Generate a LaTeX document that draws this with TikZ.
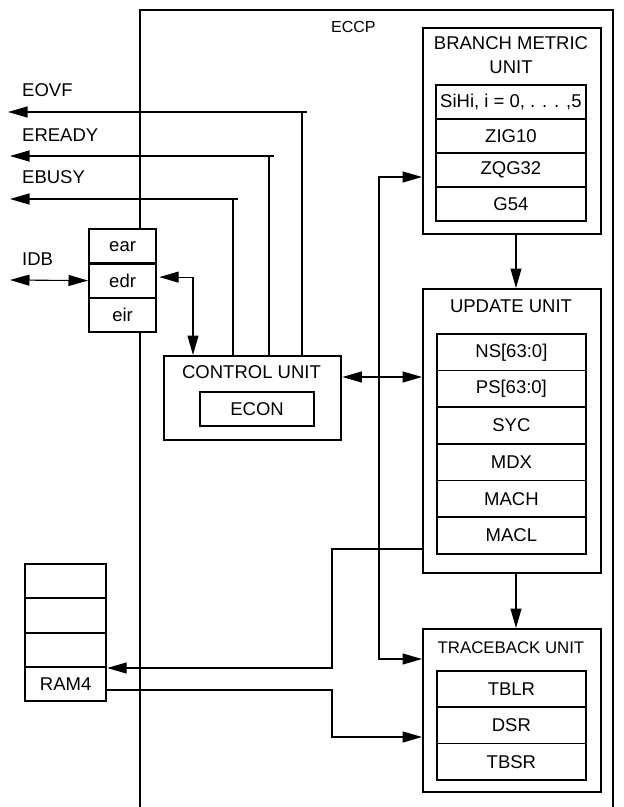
\documentclass[tikz,border=0pt]{standalone}
\usepackage{fontspec}
\setmainfont{Liberation Sans}
\usetikzlibrary{arrows.meta}
\begin{document}
\begin{tikzpicture}[x=1pt,y=-1pt,
  font=\fontsize{18.5}{24}\selectfont,
  >={Triangle[length=19.5pt,width=11pt]},
  outerbox/.style={draw, line width=2.4pt, fill=white, anchor=north west, inner sep=0pt},
  cell/.style={draw, line width=1.8pt, fill=white, anchor=north west, inner sep=0pt},
  stackcell/.style={draw, line width=2.2pt, fill=white, anchor=north west, inner sep=0pt},
  conn/.style={line width=1.1pt},
  lbl/.style={anchor=west, inner sep=0pt},
  ttl/.style={inner sep=0pt, align=center}]
\useasboundingbox (0,0) rectangle (624,807);
% ECCP frame
\draw[line width=2.4pt] (140,812) -- (140,10) -- (613,10) -- (613,812);
\node[lbl, font=\fontsize{16}{18}\selectfont] (eccp) at (331,27) {ECCP};
% Branch metric unit
\node[outerbox, minimum width=178pt, minimum height=206pt] (bmu) at (422,27) {};
\node[ttl] (bmut) at (511,55) {BRANCH METRIC\\UNIT};
\node[cell, minimum width=150pt, minimum height=34pt] (sihi) at (435,84) {SiHi, i = 0, . . . ,5};
\node[cell, minimum width=150pt, minimum height=34pt] (zig) at (435,118) {ZIG10};
\node[cell, minimum width=150pt, minimum height=34pt] (zqg) at (435,152) {ZQG32};
\node[cell, minimum width=150pt, minimum height=34pt] (g54) at (435,186) {G54};
% Update unit
\node[outerbox, minimum width=178pt, minimum height=284pt] (upd) at (422,288) {};
\node[ttl] (updt) at (511,306) {UPDATE UNIT};
\node[cell, minimum width=149pt, minimum height=36.67pt] (ns) at (436,333) {NS[63:0]};
\node[cell, minimum width=149pt, minimum height=36.67pt] (ps) at (436,369.67) {PS[63:0]};
\node[cell, minimum width=149pt, minimum height=36.67pt] (syc) at (436,406.33) {SYC};
\node[cell, minimum width=149pt, minimum height=36.67pt] (mdx) at (436,443) {MDX};
\node[cell, minimum width=149pt, minimum height=36.67pt] (mach) at (436,479.67) {MACH};
\node[cell, minimum width=149pt, minimum height=36.67pt] (macl) at (436,516.33) {MACL};
% Traceback unit
\node[outerbox, minimum width=178pt, minimum height=163pt] (tb) at (422,628) {};
\node[ttl, font=\fontsize{16.8}{20}\selectfont] (tbt) at (511,648) {TRACEBACK UNIT};
\node[cell, minimum width=149pt, minimum height=36.33pt] (tblr) at (436,670) {TBLR};
\node[cell, minimum width=149pt, minimum height=36.33pt] (dsr) at (436,706.33) {DSR};
\node[cell, minimum width=149pt, minimum height=36.33pt] (tbsr) at (436,742.67) {TBSR};
% Control unit
\node[outerbox, minimum width=177pt, minimum height=84pt] (cu) at (163,355) {};
\node[ttl] (cut) at (251.5,372) {CONTROL UNIT};
\node[stackcell, minimum width=114pt, minimum height=34pt] (econ) at (199,391) {ECON};
% register stack
\node[stackcell, minimum width=67pt, minimum height=34.33pt] (ear) at (88,228) {ear};
\node[stackcell, minimum width=67pt, minimum height=34.33pt] (edr) at (88,262.33) {edr};
\node[stackcell, minimum width=67pt, minimum height=34.33pt] (eir) at (88,296.67) {eir};
% RAM stack
\node[stackcell, minimum width=81pt, minimum height=34.25pt] (ra) at (24,563) {};
\node[stackcell, minimum width=81pt, minimum height=34.25pt] (rb) at (24,597.25) {};
\node[stackcell, minimum width=81pt, minimum height=34.25pt] (rc) at (24,631.5) {};
\node[stackcell, minimum width=81pt, minimum height=34.25pt] (ram4) at (24,665.75) {RAM4};
% signal labels
\node[lbl] (leovf) at (22,90) {EOVF};
\node[lbl] (leready) at (22,135) {EREADY};
\node[lbl] (lebusy) at (22,177) {EBUSY};
\node[lbl] (lidb) at (22,259) {IDB};
% status signals
\coordinate (eovfx) at (302,112); \coordinate (eovfs) at (307,112); \coordinate (eovfe) at (8,112);
\coordinate (erdyx) at (269,156); \coordinate (erdys) at (274,156); \coordinate (erdye) at (10,156);
\coordinate (ebsyx) at (233,199); \coordinate (ebsys) at (238,199); \coordinate (ebsye) at (10,199);
\draw[conn,->] (eovfs) -- (eovfe);
\draw[conn] (cu.north -| eovfx) -- (eovfx);
\draw[conn,->] (erdys) -- (erdye);
\draw[conn] (cu.north -| erdyx) -- (erdyx);
\draw[conn,->] (ebsys) -- (ebsye);
\draw[conn] (cu.north -| ebsyx) -- (ebsyx);
% IDB
\coordinate (idbe) at (10,280);
\draw[conn,<->] (idbe) -- (edr.west);
% edr <-> control unit
\coordinate (ecx) at (193,0);
\draw[conn,<->] ([xshift=2pt,yshift=3.5pt]edr.east) -| (cu.north -| ecx);
% control <-> update
\coordinate (cuy) at (0,377);
\draw[conn,<->] (cu.east |- cuy) -- (upd.west |- cuy);
% loop BMU / traceback
\coordinate (lx1) at (379,177); \coordinate (lx2) at (379,659);
\draw[conn,<->] (bmu.west |- lx1) -- (lx1) -- (lx2) -- (tb.west |- lx2);
% vertical flow
\coordinate (ax) at (516,0);
\draw[conn,->] (bmu.south -| ax) -- (upd.north -| ax);
\draw[conn,->] (upd.south -| ax) -- (tb.north -| ax);
% MACL -> RAM4
\coordinate (m1) at (332,549); \coordinate (m2) at (332,668);
\draw[conn,->] (upd.west |- m1) -- (m1) -- (m2) -- (ram4.east |- m2);
% RAM4 -> traceback
\coordinate (r1) at (332,690); \coordinate (r2) at (332,737);
\draw[conn,->] (ram4.east |- r1) -- (r1) -- (r2) -- (tb.west |- r2);
\end{tikzpicture}
\end{document}
